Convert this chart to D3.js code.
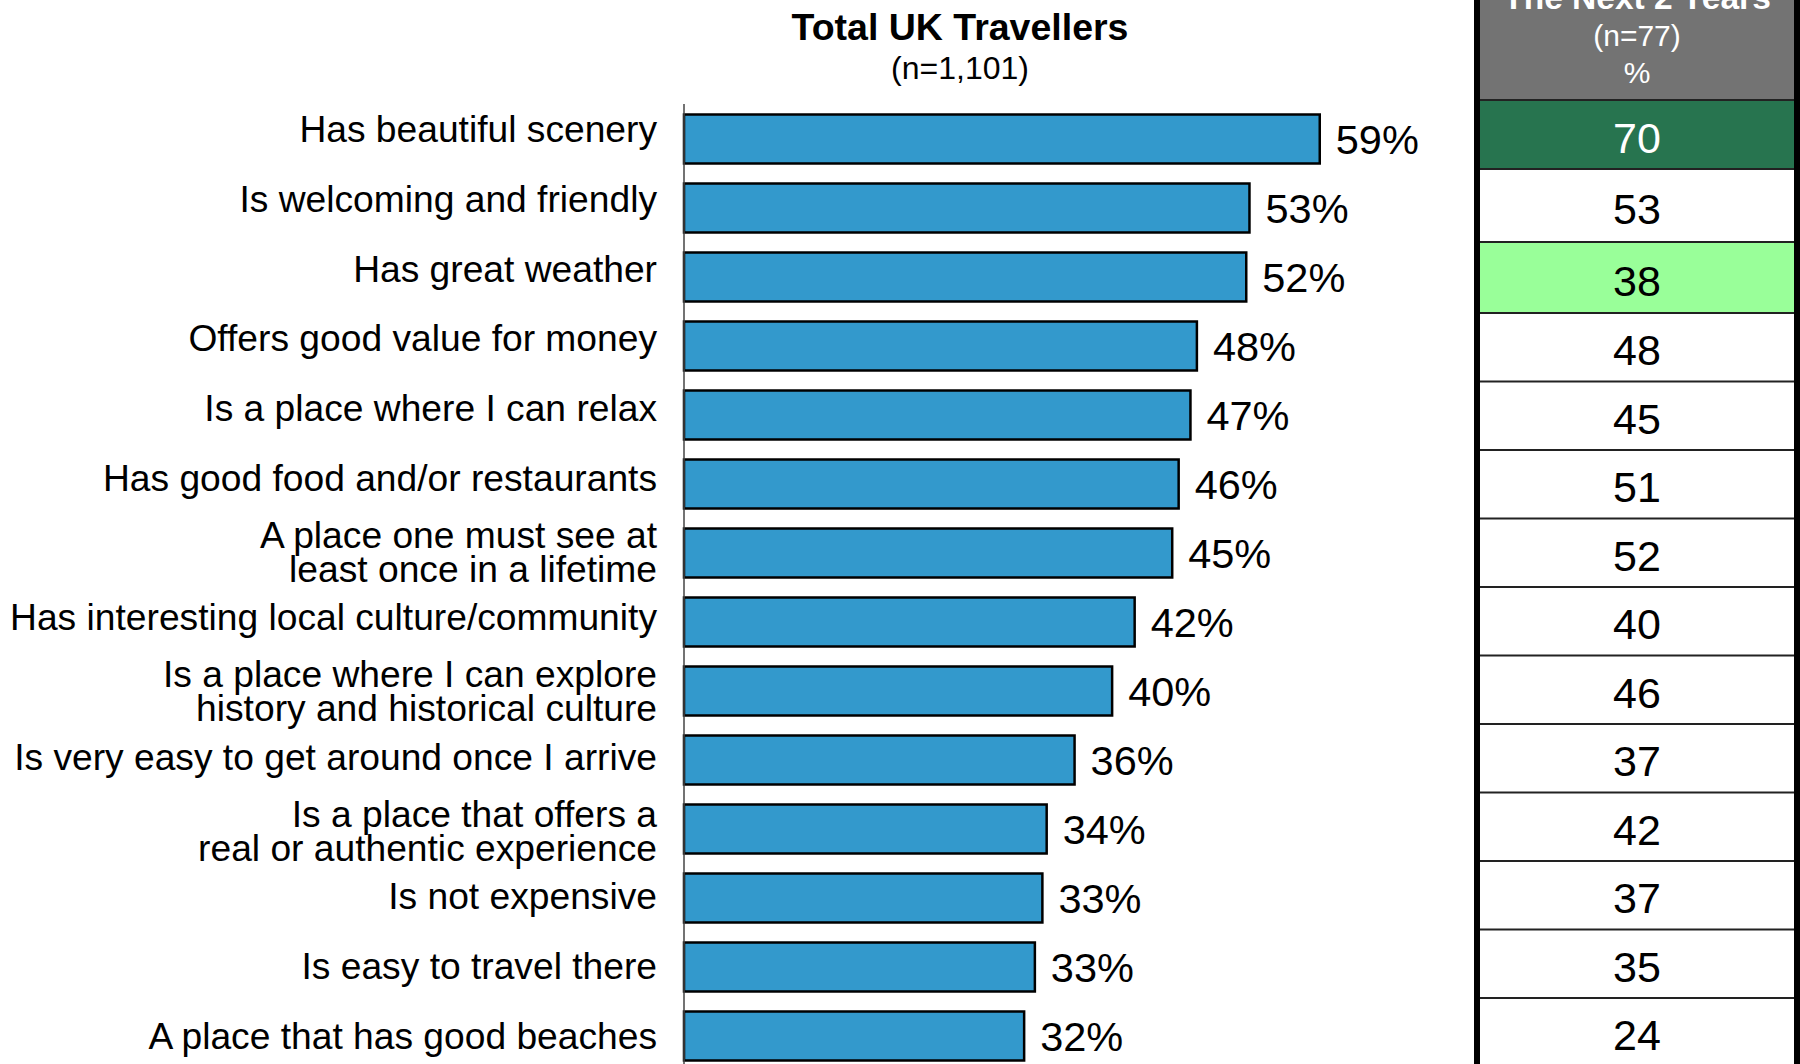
<!DOCTYPE html>
<html>
<head>
<meta charset="utf-8">
<script src="https://cdn.jsdelivr.net/npm/d3@7"></script>
<style>
  body { margin: 0; background: #fff; }
  text { font-family: "Liberation Sans", Arial, sans-serif; }
</style>
</head>
<body>
<svg id="chart"></svg>
<script>
var width = 1800;
var height = 1064;

// categories (| marks a line break)
var categories = [
  "Has beautiful scenery",
  "Is welcoming and friendly",
  "Has great weather",
  "Offers good value for money",
  "Is a place where I can relax",
  "Has good food and/or restaurants",
  "A place one must see at|least once in a lifetime",
  "Has interesting local culture/community",
  "Is a place where I can explore|history and historical culture",
  "Is very easy to get around once I arrive",
  "Is a place that offers a|real or authentic experience",
  "Is not expensive",
  "Is easy to travel there",
  "A place that has good beaches"
];
// bar lengths (unrounded), and the printed labels
var totalUK = [59.25, 52.7, 52.4, 47.8, 47.2, 46.1, 45.5, 42.0, 39.9, 36.4, 33.8, 33.4, 32.7, 31.7];
var totalUKLabels = [59, 53, 52, 48, 47, 46, 45, 42, 40, 36, 34, 33, 33, 32];
var next2Years = [70, 53, 38, 48, 45, 51, 52, 40, 46, 37, 42, 37, 35, 24];

var svg = d3.select("#chart").attr("width", width).attr("height", height);

var xScale = d3.scaleLinear().domain([0, 100]).range([684, 684 + 1073]);
var yScale = d3.scaleBand()
  .domain(d3.range(categories.length))
  .range([104.5, 104.5 + 69 * categories.length])
  .paddingInner(0.29)
  .paddingOuter(0.145);
// labels sit on a slightly wider pitch than the bars
var labelY = d3.scalePoint()
  .domain(d3.range(categories.length))
  .range([142, 1049]);

// titles
svg.append("text")
  .attr("x", 960).attr("y", 40)
  .attr("text-anchor", "middle")
  .attr("font-size", 37.5).attr("font-weight", "bold")
  .text("Total UK Travellers");
svg.append("text")
  .attr("x", 960).attr("y", 79)
  .attr("text-anchor", "middle")
  .attr("font-size", 32)
  .text("(n=1,101)");

// bars
svg.selectAll("rect.bar")
  .data(totalUK)
  .enter()
  .append("rect")
  .attr("class", "bar")
  .attr("x", xScale(0))
  .attr("y", (d, i) => yScale(i))
  .attr("width", (d) => xScale(d) - xScale(0))
  .attr("height", yScale.bandwidth())
  .attr("fill", "#3399CC")
  .attr("stroke", "#000")
  .attr("stroke-width", 2.5);

// axis line
svg.append("line")
  .attr("x1", xScale(0)).attr("x2", xScale(0))
  .attr("y1", 104).attr("y2", height)
  .attr("stroke", "#444").attr("stroke-width", 1.5);

// value labels
svg.selectAll("text.val")
  .data(totalUKLabels)
  .enter()
  .append("text")
  .attr("class", "val")
  .attr("x", (d, i) => xScale(totalUK[i]) + 16)
  .attr("y", (d, i) => yScale(i) + yScale.bandwidth() / 2 + 15)
  .attr("font-size", 41.5)
  .text((d) => d + "%");

// category labels
svg.selectAll("text.cat")
  .data(categories)
  .enter()
  .append("text")
  .attr("class", "cat")
  .attr("text-anchor", "end")
  .attr("font-size", 37.2)
  .each(function (d, i) {
    var lines = d.split("|");
    var base = labelY(i);
    var t = d3.select(this);
    if (lines.length === 1) {
      t.append("tspan").attr("x", 657).attr("y", base).text(lines[0]);
    } else {
      t.append("tspan").attr("x", 657).attr("y", base - 13).text(lines[0]);
      t.append("tspan").attr("x", 657).attr("y", base + 21).text(lines[1]);
    }
  });

// right-hand table
var tableLeft = 1480, tableRight = 1794;
var tableCx = (tableLeft + tableRight) / 2;
// row edges: the first rows of the table are a little taller than the rest
var rowY = d3.scaleLinear()
  .domain([0, 1, 2, 3, 13, 14])
  .range([100, 169, 242, 313, 998, 1066]);

function cellFill(i) {
  if (i === 0) return "#27744F";
  if (i === 2) return "#99FF99";
  return "#fff";
}

svg.append("rect")
  .attr("x", tableLeft).attr("y", 0)
  .attr("width", tableRight - tableLeft).attr("height", 99)
  .attr("fill", "#737373");

svg.selectAll("rect.cell")
  .data(next2Years)
  .enter()
  .append("rect")
  .attr("class", "cell")
  .attr("x", tableLeft)
  .attr("y", (d, i) => rowY(i))
  .attr("width", tableRight - tableLeft)
  .attr("height", (d, i) => rowY(i + 1) - rowY(i))
  .attr("fill", (d, i) => cellFill(i));

svg.selectAll("line.row")
  .data(next2Years)
  .enter()
  .append("line")
  .attr("class", "row")
  .attr("x1", tableLeft).attr("x2", tableRight)
  .attr("y1", (d, i) => rowY(i)).attr("y2", (d, i) => rowY(i))
  .attr("stroke", "#222").attr("stroke-width", 2);

svg.selectAll("text.cellval")
  .data(next2Years)
  .enter()
  .append("text")
  .attr("class", "cellval")
  .attr("x", tableCx)
  .attr("y", (d, i) => (rowY(i) + rowY(i + 1)) / 2 + 18)
  .attr("text-anchor", "middle")
  .attr("font-size", 43)
  .attr("fill", (d, i) => (i === 0 ? "#fff" : "#000"))
  .text((d) => d);

// header text
svg.append("text")
  .attr("x", tableCx).attr("y", 9)
  .attr("text-anchor", "middle")
  .attr("font-size", 33.5).attr("font-weight", "bold")
  .attr("fill", "#fff")
  .text("The Next 2 Years");
svg.append("text")
  .attr("x", tableCx).attr("y", 46)
  .attr("text-anchor", "middle")
  .attr("font-size", 30)
  .attr("fill", "#fff")
  .text("(n=77)");
svg.append("text")
  .attr("x", tableCx).attr("y", 83)
  .attr("text-anchor", "middle")
  .attr("font-size", 30)
  .attr("fill", "#fff")
  .text("%");

// table borders
svg.append("rect")
  .attr("x", 1474).attr("y", 0)
  .attr("width", 6).attr("height", height)
  .attr("fill", "#000");
svg.append("rect")
  .attr("x", 1794).attr("y", 0)
  .attr("width", 6).attr("height", height)
  .attr("fill", "#000");
</script>
</body>
</html>
